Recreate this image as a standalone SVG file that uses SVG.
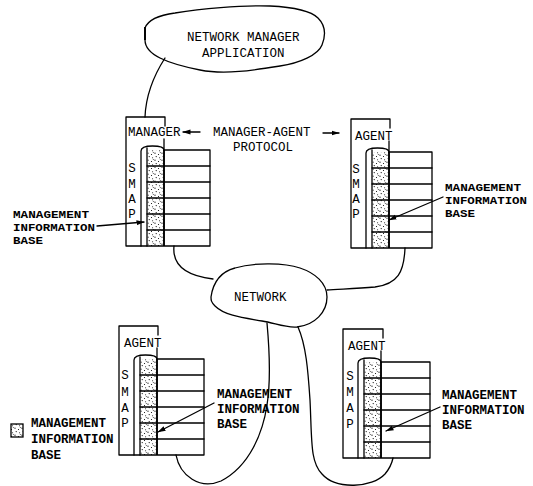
<svg xmlns="http://www.w3.org/2000/svg" width="533" height="486" viewBox="0 0 533 486">
<defs>
<style>
.ln{fill:none;stroke:#000;stroke-width:1.3;stroke-linejoin:round;stroke-linecap:round}
.thk{fill:none;stroke:#000;stroke-width:1.9}
.t{font-family:"Liberation Mono","DejaVu Sans Mono",monospace;font-size:12.5px;fill:#000}
.b{font-weight:bold}
.s{font-size:11px}
.dots{fill:url(#dot);stroke:none}
</style>
<pattern id="dot" patternUnits="userSpaceOnUse" width="7" height="7">
<rect width="7" height="7" fill="#fff"/>
<circle cx="1" cy="1.2" r="0.6"/><circle cx="4.5" cy="2.5" r="0.55"/><circle cx="2.2" cy="4.6" r="0.6"/><circle cx="5.6" cy="5.7" r="0.5"/><circle cx="6.3" cy="0.4" r="0.45"/>
</pattern>
<marker id="ah" viewBox="0 0 8 6" refX="7.5" refY="3" markerWidth="8" markerHeight="6" markerUnits="userSpaceOnUse" orient="auto"><path d="M0,0.5 L8,3 L0,5.5 z" fill="#000"/></marker>
</defs>
<rect width="533" height="486" fill="#fff"/>

<g id="connectors" class="ln">
<path d="M165,58 C156,72 146,92 145,117"/>
<path d="M174,246 C172,266 188,276 213,279"/>
<path d="M405,248 C404,272 398,284 375,287 C355,289 338,289 327,290"/>
<path d="M267,323 C269,345 271,380 267,405 C263,432 250,466 221,481 C200,490 180,476 176,455"/>
<path d="M298,327 C306,345 308,370 310,400 C312,440 310,462 322,474 C336,490 372,488 385,474 C390,468 392,463 393,458"/>
<g id="protocol-arrows">
<line x1="200" y1="132" x2="183" y2="132" marker-end="url(#ah)"/>
<line x1="323" y1="133" x2="339" y2="133" marker-end="url(#ah)"/>
</g>
</g>

<g id="nma">
<path class="ln" d="M145,28 C148,20 160,15 175,13 C200,9 240,5 270,6 C290,7 310,10 318,18 C325,25 326,35 322,45 C318,55 300,63 280,66 C255,70 225,75 200,70 C185,67 170,63 160,58 C150,53 145,46 145,40 Z"/>
<line x1="145" y1="27" x2="145" y2="40" class="thk"/>
<text class="t" x="187" y="41">NETWORK MANAGER</text>
<text class="t" x="202" y="57">APPLICATION</text>
</g>

<g id="protocol">
<text class="t" x="213" y="136">MANAGER-AGENT</text>
<text class="t" x="233" y="151">PROTOCOL</text>
</g>

<g id="network">
<path class="ln" d="M211,297 C213,283 220,272 235,268 C255,262 285,263 300,268 C315,273 327,283 327,297 C327,312 315,325 297,327 C285,328 275,323 262,321 C245,318 225,316 215,306 C211,302 211,300 211,297 Z"/>
<text class="t" x="234" y="301">NETWORK</text>
</g>

<g id="manager" transform="translate(126,117)">
<rect class="dots" x="21.5" y="33" width="16" height="96"/>
<path class="ln" d="M39,9 V0 H0 V129 H84 V33 H38"/>
<line class="ln" x1="38" y1="22" x2="38" y2="33"/>
<path class="ln" d="M15,129 V34 C15,30 20,29 26.5,29 C33,29 38,30 38,33"/>
<line class="thk" x1="38" y1="33" x2="38" y2="129"/>
<line class="ln" x1="21" y1="31" x2="21" y2="129"/>
<path class="ln" d="M21,49 H84 M21,65 H84 M21,81 H84 M21,97 H84 M21,113 H84"/>
<text class="t" x="2" y="19">MANAGER</text>
<g class="t" text-anchor="middle"><text x="6" y="55">S</text><text x="6" y="71">M</text><text x="6" y="86">A</text><text x="6" y="101">P</text></g>
</g>

<g id="agent-top" transform="translate(351,119)">
<rect class="dots" x="21.5" y="33" width="16" height="96"/>
<path class="ln" d="M39,9 V0 H0 V129 H81 V33 H38"/>
<line class="ln" x1="38" y1="22" x2="38" y2="33"/>
<path class="ln" d="M15,129 V34 C15,30 20,29 26.5,29 C33,29 38,30 38,33"/>
<line class="thk" x1="38" y1="33" x2="38" y2="129"/>
<line class="ln" x1="21" y1="31" x2="21" y2="129"/>
<path class="ln" d="M21,49 H81 M21,65 H81 M21,81 H81 M21,97 H81 M21,113 H81"/>
<text class="t" x="4" y="21">AGENT</text>
<g class="t" text-anchor="middle"><text x="5" y="54">S</text><text x="5" y="69">M</text><text x="5" y="84">A</text><text x="5" y="99">P</text></g>
</g>

<g id="agent-bottom-left" transform="translate(119,326)">
<rect class="dots" x="21.5" y="33" width="16" height="96"/>
<path class="ln" d="M39,9 V0 H0 V129 H85 V33 H38"/>
<line class="ln" x1="38" y1="22" x2="38" y2="33"/>
<path class="ln" d="M15,129 V34 C15,30 20,29 26.5,29 C33,29 38,30 38,33"/>
<line class="thk" x1="38" y1="33" x2="38" y2="129"/>
<line class="ln" x1="21" y1="31" x2="21" y2="129"/>
<path class="ln" d="M21,49 H85 M21,65 H85 M21,81 H85 M21,97 H85 M21,113 H85"/>
<text class="t" x="5" y="21">AGENT</text>
<g class="t" text-anchor="middle"><text x="6" y="53">S</text><text x="6" y="70">M</text><text x="6" y="86">A</text><text x="6" y="101">P</text></g>
</g>

<g id="agent-bottom-right" transform="translate(343,329)">
<rect class="dots" x="21.5" y="33" width="16" height="96"/>
<path class="ln" d="M40,9 V0 H0 V129 H87 V33 H38"/>
<line class="ln" x1="38" y1="22" x2="38" y2="33"/>
<path class="ln" d="M15,129 V34 C15,30 20,29 26.5,29 C33,29 38,30 38,33"/>
<line class="thk" x1="38" y1="33" x2="38" y2="129"/>
<line class="ln" x1="21" y1="31" x2="21" y2="129"/>
<path class="ln" d="M21,49 H87 M21,65 H87 M21,81 H87 M21,97 H87 M21,113 H87"/>
<text class="t" x="5" y="21">AGENT</text>
<g class="t" text-anchor="middle"><text x="7" y="51">S</text><text x="7" y="67">M</text><text x="7" y="83">A</text><text x="7" y="99">P</text></g>
</g>

<g id="mib-manager">
<line class="ln" x1="97" y1="226" x2="144" y2="222" marker-end="url(#ah)"/>
<text class="t b s" x="13" y="218" textLength="76" lengthAdjust="spacingAndGlyphs">MANAGEMENT</text>
<text class="t b s" x="13" y="231" textLength="82" lengthAdjust="spacingAndGlyphs">INFORMATION</text>
<text class="t b s" x="13" y="244" textLength="30" lengthAdjust="spacingAndGlyphs">BASE</text>
</g>

<g id="mib-agent-top">
<line class="ln" x1="443" y1="197" x2="389" y2="220" marker-end="url(#ah)"/>
<text class="t b s" x="445" y="191" textLength="76" lengthAdjust="spacingAndGlyphs">MANAGEMENT</text>
<text class="t b s" x="445" y="204" textLength="82" lengthAdjust="spacingAndGlyphs">INFORMATION</text>
<text class="t b s" x="445" y="217" textLength="30" lengthAdjust="spacingAndGlyphs">BASE</text>
</g>

<g id="mib-agent-bottom-left">
<line class="ln" x1="214" y1="403" x2="158" y2="432" marker-end="url(#ah)"/>
<text class="t b" x="217" y="398">MANAGEMENT</text>
<text class="t b" x="217" y="413">INFORMATION</text>
<text class="t b" x="217" y="428">BASE</text>
</g>

<g id="mib-agent-bottom-right">
<line class="ln" x1="440" y1="407" x2="386" y2="431" marker-end="url(#ah)"/>
<text class="t b" x="442" y="399">MANAGEMENT</text>
<text class="t b" x="442" y="414">INFORMATION</text>
<text class="t b" x="442" y="429">BASE</text>
</g>

<g id="legend">
<rect x="11" y="424" width="12" height="13" fill="url(#dot)" stroke="#000" stroke-width="1.3"/>
<text class="t b" x="31" y="427">MANAGEMENT</text>
<text class="t b" x="31" y="443">INFORMATION</text>
<text class="t b" x="31" y="459">BASE</text>
</g>
</svg>
